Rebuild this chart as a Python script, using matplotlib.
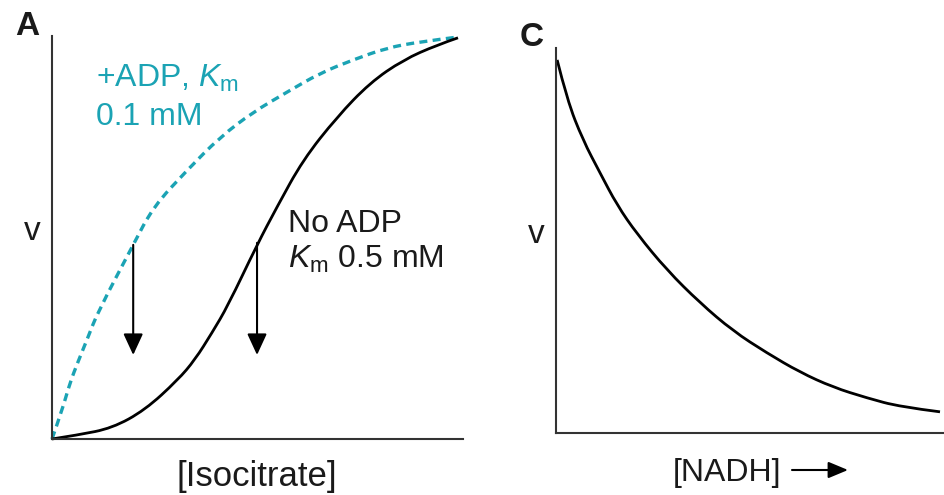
import matplotlib
matplotlib.use("Agg")
import matplotlib.pyplot as plt
from matplotlib.path import Path
from matplotlib.patches import PathPatch, FancyArrowPatch

plt.rcParams['font.family'] = ['Liberation Sans', 'DejaVu Sans']
plt.rcParams['mathtext.fontset'] = 'custom'
plt.rcParams['mathtext.rm'] = 'Liberation Sans'
plt.rcParams['mathtext.it'] = 'Liberation Sans:italic'

# panel A: v vs [isocitrate], both axes scaled 0..1
no_adp_x = [0.0, 0.064, 0.148, 0.229, 0.310, 0.352, 0.394, 0.433, 0.505,
            0.554, 0.618, 0.702, 0.783, 0.865, 0.948, 1.0]
no_adp_v = [0.0, 0.010, 0.027, 0.072, 0.147, 0.197, 0.264, 0.331, 0.483,
            0.577, 0.694, 0.801, 0.886, 0.943, 0.980, 0.998]
adp_x = [0.0, 0.025, 0.044, 0.064, 0.089, 0.113, 0.200, 0.249, 0.333,
         0.414, 0.495, 0.579, 0.660, 0.741, 0.825, 0.906, 1.0]
adp_v = [0.0, 0.072, 0.139, 0.192, 0.254, 0.316, 0.483, 0.577, 0.669,
         0.751, 0.813, 0.863, 0.910, 0.943, 0.973, 0.988, 1.0]
# downward arrows (x, start, end)
arrow_x = [0.200, 0.505]
arrow_top = [0.483, 0.488]
arrow_tip = [0.209, 0.209]

# panel C: v vs [NADH]
nadh_x = [0.003, 0.029, 0.070, 0.115, 0.159, 0.211, 0.289, 0.375, 0.461,
          0.549, 0.635, 0.721, 0.810, 0.896, 1.0]
nadh_v = [0.969, 0.865, 0.761, 0.675, 0.592, 0.517, 0.423, 0.338, 0.265,
          0.208, 0.158, 0.119, 0.091, 0.068, 0.055]

TEAL = '#1ba3b4'
INK = '#1a1a1a'
FS = 23

W, H = 944, 495
fig = plt.figure(figsize=(W / 100, H / 100), dpi=100)


def px_axes(x0, y0, x1, y1):
    # axes box from pixel corners (top-left origin)
    return fig.add_axes([x0 / W, 1 - y1 / H, (x1 - x0) / W, (y1 - y0) / H])


def style(ax):
    for s in ['top', 'right']:
        ax.spines[s].set_visible(False)
    for s in ['left', 'bottom']:
        ax.spines[s].set_linewidth(1.5)
        ax.spines[s].set_color('#333333')
    ax.set_xticks([])
    ax.set_yticks([])


def smooth_curve(ax, xs, ys, **kw):
    # quadratic bezier chain: read points act as control points
    pts = list(zip(xs, ys))
    verts = [pts[0]]
    codes = [Path.MOVETO]
    for i in range(1, len(pts) - 1):
        mid = ((pts[i][0] + pts[i + 1][0]) / 2, (pts[i][1] + pts[i + 1][1]) / 2)
        if i == len(pts) - 2:
            mid = pts[-1]
        verts += [pts[i], mid]
        codes += [Path.CURVE3, Path.CURVE3]
    patch = PathPatch(Path(verts, codes), fill=False, clip_on=False,
                      capstyle='butt', **kw)
    ax.add_patch(patch)


# ---- panel A
axA = px_axes(52, 36, 463, 439)
style(axA)
axA.set_xlim(0, 411 / 406)
axA.set_ylim(0, 403 / 402)
smooth_curve(axA, adp_x, adp_v, edgecolor=TEAL, lw=2.4,
             linestyle=(0, (2.4, 1.6)))
smooth_curve(axA, no_adp_x, no_adp_v, edgecolor='black', lw=2.0)
for x, a, b in zip(arrow_x, arrow_top, arrow_tip):
    axA.annotate('', xy=(x, b), xytext=(x, a),
                 arrowprops=dict(arrowstyle='-|>,head_length=0.65,head_width=0.3',
                                 mutation_scale=20, lw=1.5, color='black',
                                 shrinkA=0, shrinkB=0))

axA.text(0.108, 0.876, r'+ADP, $\mathit{K}_{\mathrm{m}}$', color=TEAL,
         fontsize=FS, va='baseline', ha='left')
axA.text(0.108, 0.781, '0.1 mM', color=TEAL, fontsize=FS,
         va='baseline', ha='left')
axA.text(0.581, 0.515, 'No ADP', color=INK, fontsize=FS,
         va='baseline', ha='left')
axA.text(0.581, 0.425, r'$\mathit{K}_{\mathrm{m}}$ 0.5 mM', color=INK,
         fontsize=FS, va='baseline', ha='left')

fig.text(15 / W, 1 - 35 / H, 'A', fontsize=24, fontweight='bold',
         color=INK, ha='left', va='baseline')
fig.text(32 / W, 1 - 240 / H, 'v', fontsize=FS + 1, color=INK,
         ha='center', va='baseline')
fig.text(257 / W, 1 - 486 / H, '[Isocitrate]', fontsize=25, color=INK,
         ha='center', va='baseline')

# ---- panel C
axC = px_axes(556, 48, 944, 433)
style(axC)
axC.set_xlim(0, 388 / 384)
axC.set_ylim(0, 1)
smooth_curve(axC, nadh_x, nadh_v, edgecolor='black', lw=2.0)

fig.text(520 / W, 1 - 46 / H, 'C', fontsize=24, fontweight='bold',
         color=INK, ha='left', va='baseline')
fig.text(536 / W, 1 - 243 / H, 'v', fontsize=FS + 1, color=INK,
         ha='center', va='baseline')
fig.text(727 / W, 1 - 481 / H, '[NADH]', fontsize=FS, color=INK,
         ha='center', va='baseline')
fig.add_artist(FancyArrowPatch(
    (792 / W, 1 - 470 / H), (848 / W, 1 - 470 / H),
    transform=fig.transFigure,
    arrowstyle='-|>,head_length=0.6,head_width=0.25',
    mutation_scale=20, lw=1.5, color='black', shrinkA=0, shrinkB=0))

fig.savefig('out.png', dpi=100)
